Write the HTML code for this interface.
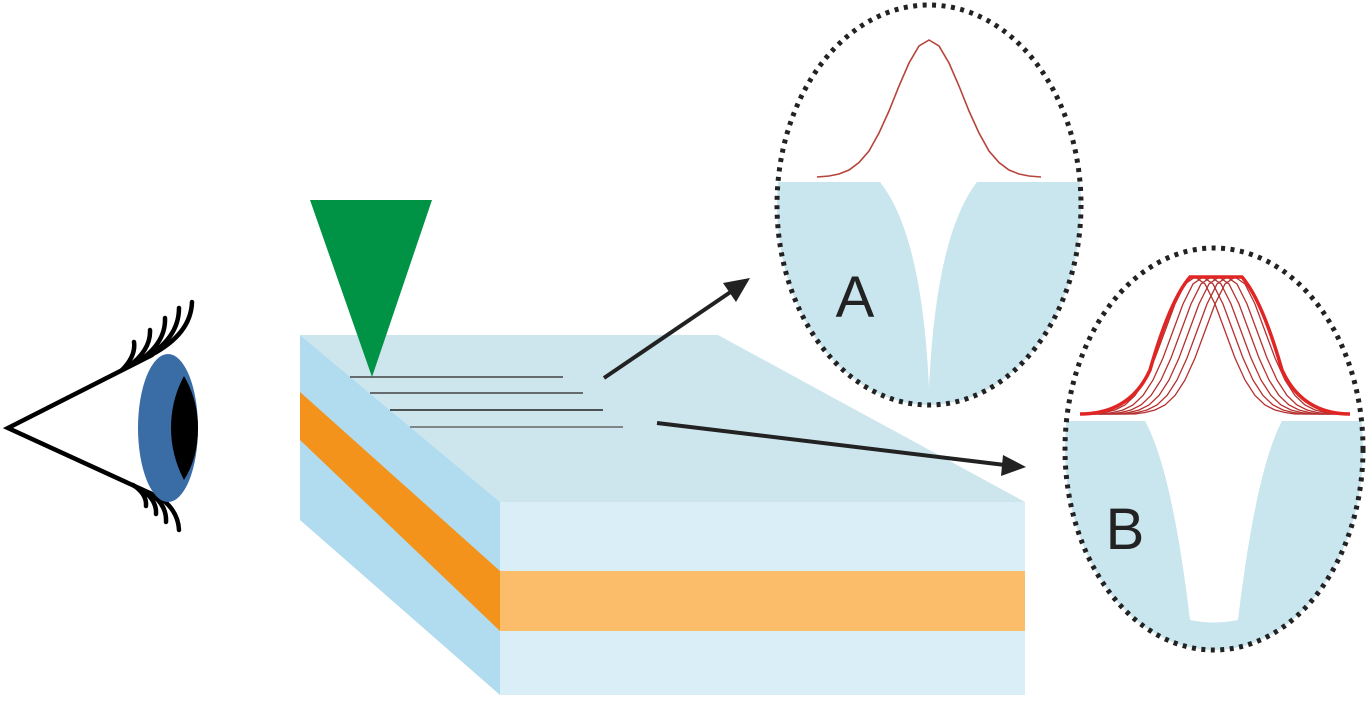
<!DOCTYPE html>
<html><head><style>html,body{margin:0;padding:0;background:#fff;}svg{display:block}</style></head>
<body>
<svg width="1370" height="704" viewBox="0 0 1370 704" xmlns="http://www.w3.org/2000/svg">
<defs>
<clipPath id="ca"><ellipse cx="929" cy="205" rx="152" ry="200"/></clipPath>
<clipPath id="cb"><ellipse cx="1214" cy="449" rx="149" ry="201"/></clipPath>
<clipPath id="cr"><rect x="1082" y="260" width="268" height="160"/></clipPath>
<path id="g30" fill="none" d="M-135,414 L-100,414 L-90,412.5 L-80,410 L-70,405 L-60,395.5 L-50,380 L-40,358 L-30,331 L-20,304 L-10,284 L0,277 L10,284 L20,304 L30,331 L40,358 L50,380 L60,395.5 L70,405 L80,410 L90,412.5 L100,414 L135,414"/>
</defs>
<!-- slab -->
<polygon points="300,335 718,335 1025,502 500,502" fill="#cde6ee"/>
<polygon points="300,335 500,502 500,695 300,520" fill="#b1dcef"/>
<polygon points="300,392 500,571 500,631 300,440" fill="#f3931b"/>
<rect x="500" y="502" width="525" height="69" fill="#d9eef6"/>
<rect x="500" y="571" width="525" height="60" fill="#fbbd6a"/>
<rect x="500" y="631" width="525" height="64" fill="#d9eef6"/>
<!-- tip -->
<polygon points="310,200 432,200 372,377" fill="#009245"/>
<g stroke="#444" stroke-width="1.5">
<line x1="350" y1="377" x2="563" y2="377"/>
<line x1="370" y1="393" x2="583" y2="393"/>
<line x1="390" y1="410" x2="603" y2="410" stroke="#222"/>
<line x1="410" y1="427" x2="623" y2="427" stroke="#666"/>
</g>
<!-- arrows -->
<g stroke="#222" stroke-width="4">
<line x1="604" y1="378" x2="732" y2="291"/>
<line x1="657" y1="423" x2="1005" y2="465"/>
</g>
<polygon points="750,278 723,283 736,302" fill="#222"/>
<polygon points="1026,467 1003,455 1001,476" fill="#222"/>
<!-- eye -->
<g fill="none" stroke="#000" stroke-width="4.5" stroke-linecap="round">
<polyline points="152,355 8,428 152,494"/>
<path d="M122,370 Q136,356 134,342"/>
<path d="M128,367 Q151,350 150,330"/>
<path d="M136,363 Q166,344 165,318"/>
<path d="M143,359 Q179,339 179,308"/>
<path d="M151,355 Q191,334 192,302"/>
<path d="M133,485 Q147,494 146,506"/>
<path d="M141,489 Q157,500 156,514"/>
<path d="M150,493 Q167,505 166,522"/>
<path d="M159,497 Q178,510 179,530"/>
</g>
<ellipse cx="168" cy="428" rx="30" ry="74" fill="#3a6da6"/>
<path d="M184,376 Q198,400 198,428 Q198,458 184,480 Q171,455 171,428 Q171,400 184,376 Z" fill="#000"/>
<!-- circle A -->
<g clip-path="url(#ca)">
<rect x="770" y="182" width="320" height="230" fill="#c9e5ee"/>
<path d="M880,182 Q922,235 929,388 Q936,235 977,182 Z" fill="#fff"/>
</g>
<polyline fill="none" stroke="#b5443a" stroke-width="1.6" points="817,177 829,176 839,174 849,170 859,162.5 869,151 879,133 889,111 899,86 909,63 919,46 929,40 939,46 949,63 959,86 969,111 979,133 989,151 999,162.5 1009,170 1019,174 1029,176 1041,177"/>
<ellipse cx="929" cy="205" rx="152" ry="200" fill="none" stroke="#222" stroke-width="5" stroke-dasharray="4 5.5"/>
<text x="855" y="317" font-family="Liberation Sans, sans-serif" font-size="58" fill="#222" text-anchor="middle">A</text>
<!-- circle B -->
<g clip-path="url(#cb)">
<rect x="1060" y="421" width="310" height="240" fill="#c9e5ee"/>
<path d="M1145,421 Q1172,470 1190,620 Q1214,625 1238,620 Q1256,470 1282,421 Z" fill="#fff"/>
</g>
<g stroke="#b53030" stroke-width="1.3" clip-path="url(#cr)">
<use href="#g30" transform="translate(1195,0)"/>
<use href="#g30" transform="translate(1203,0)"/>
<use href="#g30" transform="translate(1211,0)"/>
<use href="#g30" transform="translate(1219,0)"/>
<use href="#g30" transform="translate(1227,0)"/>
<use href="#g30" transform="translate(1235,0)"/>
</g>
<path d="M1080,414 Q1130,414 1150,370 Q1170,300 1190,277 L1242,277 Q1262,300 1282,370 Q1302,414 1350,414" fill="none" stroke="#e02525" stroke-width="3.5"/>
<ellipse cx="1214" cy="449" rx="149" ry="201" fill="none" stroke="#222" stroke-width="5" stroke-dasharray="4 5.5"/>
<text x="1125" y="549" font-family="Liberation Sans, sans-serif" font-size="58" fill="#222" text-anchor="middle">B</text>
</svg>
</body></html>
